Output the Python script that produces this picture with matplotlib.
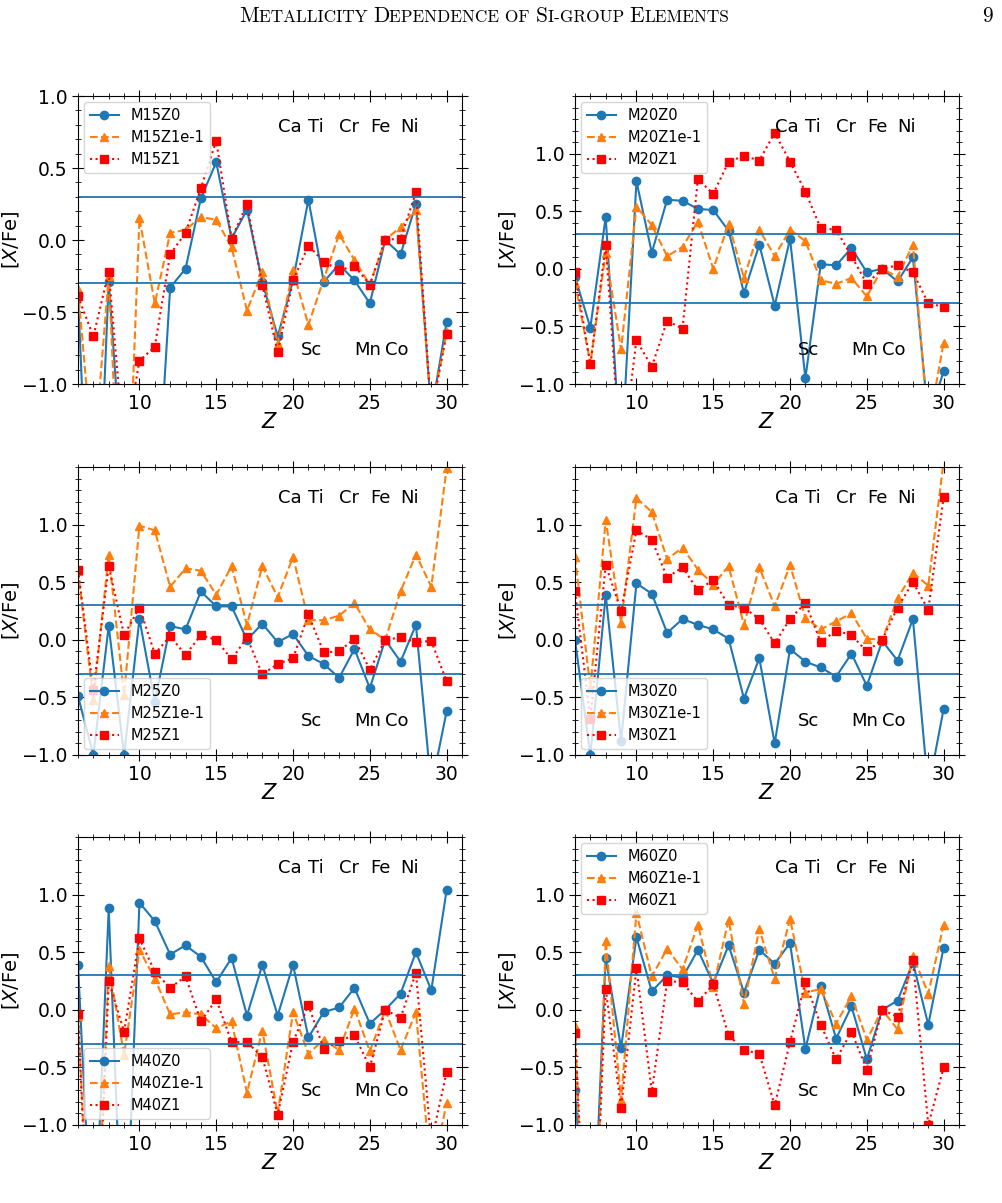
#!/usr/bin/env python3
"""[X/Fe] against atomic number Z for six progenitor masses, three metallicities each.

Writes ``out.png``.
"""
import matplotlib
matplotlib.use("Agg")
import matplotlib.pyplot as plt
from matplotlib.ticker import MultipleLocator
from matplotlib.transforms import blended_transform_factory

# ---- Data --------------------------------------------------------------------
Z = [6, 7, 8, 9, 10, 11, 12, 13, 14, 15, 16, 17, 18, 19, 20,
     21, 22, 23, 24, 25, 26, 27, 28, 29, 30]

MASSES = ["M15", "M20", "M25", "M30", "M40", "M60"]
METAL_TAGS = ["Z0", "Z1e-1", "Z1"]

M15Z0 = [-0.38, -2.85, -0.29, -1.8, -2.5, -2.1, -0.33, -0.20, 0.29, 0.54, 0.01, 0.21, -0.29,
         -0.67, -0.28, 0.28, -0.29, -0.17, -0.28, -0.44, 0.00, -0.10, 0.25, -1.2, -0.57]
M15Z1e1 = [-0.34, -1.57, -0.25, -2.6, 0.15, -0.44, 0.05, 0.07, 0.16, 0.14, -0.05, -0.49, -0.22,
           -0.72, -0.21, -0.59, -0.27, 0.04, -0.14, -0.31, 0.00, 0.09, 0.21, -1.2, -0.64]
M15Z1 = [-0.39, -0.67, -0.22, -1.45, -0.84, -0.74, -0.10, 0.05, 0.36, 0.69, 0.01, 0.25, -0.31,
         -0.78, -0.28, -0.04, -0.15, -0.21, -0.18, -0.31, 0.00, 0.01, 0.33, -1.2, -0.65]

M20Z0 = [-0.07, -0.51, 0.45, -1.7, 0.76, 0.14, 0.60, 0.59, 0.52, 0.51, 0.33, -0.21, 0.21,
         -0.32, 0.26, -0.95, 0.04, 0.03, 0.18, -0.03, 0.00, -0.11, 0.10, -1.3, -0.89]
M20Z1e1 = [-0.12, -0.82, 0.14, -0.70, 0.54, 0.38, 0.11, 0.19, 0.41, 0.00, 0.39, -0.08, 0.34,
           0.11, 0.34, 0.24, -0.10, -0.13, -0.08, -0.24, 0.00, -0.07, 0.21, -1.38, -0.64]
M20Z1 = [-0.03, -0.83, 0.21, -1.7, -0.62, -0.85, -0.45, -0.52, 0.78, 0.65, 0.93, 0.98, 0.94,
         1.18, 0.93, 0.67, 0.35, 0.34, 0.11, -0.13, 0.00, 0.03, -0.03, -0.30, -0.33]

M25Z0 = [-0.49, -1.0, 0.12, -1.0, 0.18, -0.54, 0.12, 0.09, 0.42, 0.29, 0.29, 0.00, 0.14,
         -0.02, 0.05, -0.14, -0.21, -0.33, -0.08, -0.42, 0.00, -0.19, 0.13, -1.28, -0.62]
M25Z1e1 = [0.60, -0.52, 0.74, -0.48, 0.99, 0.95, 0.46, 0.62, 0.60, 0.39, 0.64, 0.13, 0.64,
           0.37, 0.72, 0.17, 0.17, 0.21, 0.32, 0.09, 0.00, 0.42, 0.74, 0.46, 1.49]
M25Z1 = [0.61, -0.44, 0.64, 0.04, 0.28, -0.12, 0.03, -0.13, 0.04, 0.00, -0.17, 0.02, -0.30,
         -0.21, -0.16, 0.22, -0.11, -0.10, 0.01, -0.26, 0.00, 0.02, -0.02, -0.01, -0.36]

M30Z0 = [0.00, -1.0, 0.39, -0.88, 0.49, 0.40, 0.06, 0.18, 0.13, 0.09, 0.01, -0.51, -0.16,
         -0.90, -0.08, -0.19, -0.24, -0.32, -0.12, -0.40, -0.01, -0.18, 0.18, -1.3, -0.60]
M30Z1e1 = [0.72, -0.42, 1.04, 0.15, 1.23, 1.11, 0.70, 0.80, 0.61, 0.48, 0.64, 0.13, 0.63,
           0.29, 0.65, 0.19, 0.09, 0.16, 0.23, 0.01, 0.00, 0.36, 0.58, 0.47, 1.55]
M30Z1 = [0.42, -0.69, 0.65, 0.25, 0.95, 0.87, 0.54, 0.63, 0.43, 0.52, 0.30, 0.28, 0.18,
         -0.03, 0.18, 0.32, -0.02, 0.08, 0.04, -0.10, 0.00, 0.28, 0.50, 0.26, 1.24]

M40Z0 = [0.39, -2.3, 0.88, -2.5, 0.93, 0.77, 0.48, 0.56, 0.46, 0.24, 0.45, -0.05, 0.39,
         -0.05, 0.39, -0.24, -0.02, 0.02, 0.19, -0.12, 0.00, 0.14, 0.50, 0.17, 1.04]
M40Z1e1 = [-0.05, -2.8, 0.38, -0.39, 0.52, 0.27, -0.04, -0.02, -0.04, -0.16, -0.10, -0.72, -0.18,
           -0.90, -0.02, -0.38, -0.26, -0.35, 0.01, -0.36, 0.00, -0.35, -0.02, -1.45, -0.81]
M40Z1 = [-0.04, -3.0, 0.25, -0.19, 0.62, 0.33, 0.19, 0.29, -0.10, 0.09, -0.28, -0.28, -0.41,
         -0.91, -0.28, 0.04, -0.34, -0.27, -0.22, -0.50, 0.00, -0.07, 0.32, -1.15, -0.54]

M60Z0 = [-0.70, -2.6, 0.45, -0.33, 0.63, 0.16, 0.30, 0.28, 0.52, 0.23, 0.56, 0.15, 0.52,
         0.40, 0.58, -0.34, 0.21, -0.25, 0.03, -0.43, 0.00, 0.08, 0.41, -0.13, 0.54]
M60Z1e1 = [-0.14, -3.5, 0.60, -0.78, 0.84, 0.29, 0.53, 0.35, 0.74, 0.20, 0.78, 0.05, 0.70,
           0.27, 0.79, 0.15, 0.18, -0.12, 0.12, -0.26, 0.00, -0.17, 0.47, 0.14, 0.74]
M60Z1 = [-0.20, -3.0, 0.18, -0.85, 0.36, -0.71, 0.25, 0.24, 0.07, 0.22, -0.22, -0.35, -0.38,
         -0.83, -0.28, 0.24, -0.13, -0.43, -0.19, -0.52, 0.00, -0.06, 0.43, -1.0, -0.50]

SERIES = {
    "M15": (M15Z0, M15Z1e1, M15Z1),
    "M20": (M20Z0, M20Z1e1, M20Z1),
    "M25": (M25Z0, M25Z1e1, M25Z1),
    "M30": (M30Z0, M30Z1e1, M30Z1),
    "M40": (M40Z0, M40Z1e1, M40Z1),
    "M60": (M60Z0, M60Z1e1, M60Z1),
}

TOP_ELEMENTS = [("Ca", 20), ("Ti", 22), ("Cr", 24), ("Fe", 26), ("Ni", 28)]
BOTTOM_ELEMENTS = [("Sc", 21.5), ("Mn", 25), ("Co", 27)]

# ---- Styles ------------------------------------------------------------------
STYLES = [
    dict(color="C0", marker="o", linestyle="-"),
    dict(color="C1", marker="^", linestyle="--"),
    dict(color="red", marker="s", linestyle=":"),
]
LEGEND_LOC = {"M15": "upper left", "M20": "upper left", "M25": "lower left",
              "M30": "lower left", "M40": "lower left", "M60": "upper left"}
YTOP = {"M15": 1.0}

W, H = 1002, 1203
COL_X = [78, 575]
ROW_TOP = [96, 467, 837]
AX_W, AX_H = 384, 288


def _small_caps_header(fig, text_parts, y, x_center, big=15.5, small=12.4):
    """Draw small-caps text by laying out pieces one after another."""
    renderer = fig.canvas.get_renderer()
    pieces = []
    for s, is_big in text_parts:
        t = fig.text(0, y, s, fontsize=big if is_big else small,
                     family="cmr10", va="baseline", ha="left")
        pieces.append(t)
    widths = [p.get_window_extent(renderer).width for p in pieces]
    x = x_center - sum(widths) / 2
    for p, w in zip(pieces, widths):
        p.set_x(x / W)
        x += w


def _panel(ax, mass):
    for vals, tag, st in zip(SERIES[mass], METAL_TAGS, STYLES):
        ax.plot(Z, vals, label=mass + tag, lw=1.5, ms=6, **st)
    ax.axhline(0.3, color="C0", lw=1.3)
    ax.axhline(-0.3, color="C0", lw=1.3)
    ax.set_xlim(6, 31)
    ax.set_ylim(-1, YTOP.get(mass, 1.5))
    ax.set_yticks([-1.0, -0.5, 0.0, 0.5, 1.0])
    ax.xaxis.set_major_locator(MultipleLocator(5))
    ax.xaxis.set_minor_locator(MultipleLocator(1))
    ax.yaxis.set_minor_locator(MultipleLocator(0.1))
    ax.tick_params(which="both", direction="inout", top=True, right=True,
                   labelsize=13.5)
    ax.tick_params(which="major", length=8)
    ax.tick_params(which="minor", length=4)
    ax.set_xlabel("$Z$", fontsize=15, labelpad=-1)
    ax.set_ylabel(r"$[X/\mathrm{Fe}]$", fontsize=14, labelpad=1)

    tr = blended_transform_factory(ax.transData, ax.transAxes)
    for name, zz in TOP_ELEMENTS:
        ax.text(zz - 1, 0.894, name, transform=tr, ha="left", va="center", fontsize=13)
    for name, zz in BOTTOM_ELEMENTS:
        ax.text(zz - 1, 0.118, name, transform=tr, ha="left", va="center", fontsize=13)

    ax.legend(loc=LEGEND_LOC[mass], fontsize=10.5, borderaxespad=0.4)


def main():
    fig = plt.figure(figsize=(W / 100, H / 100), dpi=100)
    for i, mass in enumerate(MASSES):
        row, col = divmod(i, 2)
        left = COL_X[col] / W
        bottom = 1 - (ROW_TOP[row] + AX_H) / H
        ax = fig.add_axes([left, bottom, AX_W / W, AX_H / H])
        _panel(ax, mass)

    header = [("M", True), ("ETALLICITY ", False), ("D", True), ("EPENDENCE OF ", False),
              ("S", True), ("I-GROUP ", False), ("E", True), ("LEMENTS", False)]
    y_base = 1 - 22 / H
    _small_caps_header(fig, header, y_base, 484)
    fig.text(993 / W, y_base, "9", fontsize=15.5, family="cmr10", va="baseline", ha="right")

    fig.savefig("out.png", dpi=100)


if __name__ == "__main__":
    main()
